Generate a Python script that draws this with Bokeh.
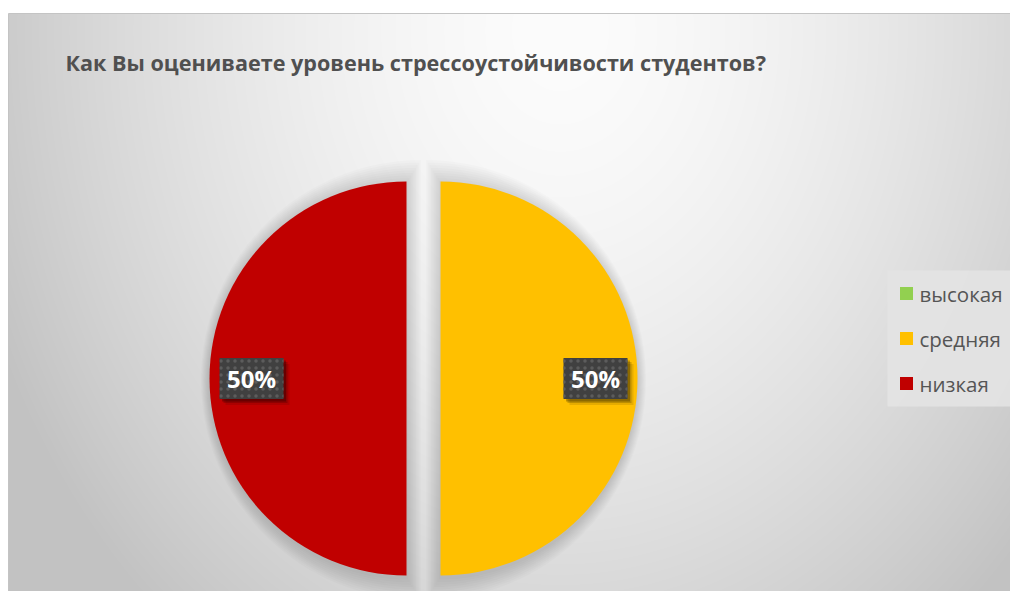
import numpy as np
from bokeh.plotting import figure
from bokeh.models import Range1d, ColumnDataSource
from bokeh.core.properties import value
from bokeh.embed import file_html
from bokeh.resources import INLINE

# ---- data ----
title_text = "Как Вы оцениваете уровень стрессоустойчивости студентов?"
categories = ["высокая", "средняя", "низкая"]
values = [0, 50, 50]
colors = ["#92D050", "#FFC000", "#C00000"]

# ---- layout constants (pixels) ----
W, H = 1010, 591
X0, CTOP = 8, 578   # chart area: x from X0, y from 0 to CTOP
CX, CY, R = 423, 213, 197
EXPLODE = 17
LABEL_R = 155
FONT = value("Open Sans")

p = figure(width=W, height=H, x_range=Range1d(0, W), y_range=Range1d(0, H),
           output_backend="svg", toolbar_location=None, min_border=0)
p.axis.visible = False
p.grid.visible = False
p.outline_line_color = None
p.background_fill_color = "white"
p.border_fill_color = "white"

# ---- background gradient ----
GW, GH = W - X0, CTOP
xs = np.arange(GW) + 0.5 + X0
ys = np.arange(GH) + 0.5
PX, PY = np.meshgrid(xs, H - ys)
d = np.sqrt((PX - 560) ** 2 + (0.8 * (PY - 30)) ** 2) / 620.0
t = np.clip(d, 0, 1) ** 1.6
v = (252 - 58 * t).astype(np.uint8)
img = np.empty((GH, GW), dtype=np.uint32)
view = img.view(dtype=np.uint8).reshape((GH, GW, 4))
view[..., 0] = v
view[..., 1] = v
view[..., 2] = v
view[..., 3] = 255
p.image_rgba(image=[img], x=X0, y=0, dw=GW, dh=GH)
p.line(x=[X0, X0, W], y=[0, CTOP, CTOP], line_color="#c4c4c4", line_width=1)

# ---- pie geometry from values ----
total = float(sum(values))
starts, ends, mids, cxs, cys, cols, lx, ly, ltxt = [], [], [], [], [], [], [], [], []
cum = 0.0
for val, col in zip(values, colors):
    frac = val / total
    a0 = np.pi / 2 - 2 * np.pi * cum
    a1 = a0 - 2 * np.pi * frac
    cum += frac
    if val <= 0:
        continue
    m = (a0 + a1) / 2
    cx = CX + EXPLODE * np.cos(m)
    cy = CY + EXPLODE * np.sin(m)
    starts.append(a0); ends.append(a1); mids.append(m)
    cxs.append(cx); cys.append(cy); cols.append(col)
    lx.append(cx + LABEL_R * np.cos(m)); ly.append(cy + LABEL_R * np.sin(m))
    ltxt.append(f"{round(100 * frac)}%")

# soft shadow: layered, slightly enlarged copies pushed back toward the centre
for k in range(9, 0, -1):
    s = 1.6 * k
    sx = [c - s * np.cos(m) for c, m in zip(cxs, mids)]
    sy = [c - s * np.sin(m) - 1.5 for c, m in zip(cys, mids)]
    p.wedge(x=sx, y=sy, radius=R + 1.6 * s, start_angle=starts, end_angle=ends,
            direction="clock", fill_color="black", fill_alpha=0.015, line_color=None)

pie = ColumnDataSource(dict(x=cxs, y=cys, start=starts, end=ends, color=cols))
p.wedge(x="x", y="y", radius=R, start_angle="start", end_angle="end",
        direction="clock", fill_color="color", line_color=None, source=pie)

# ---- data labels ----
lab = ColumnDataSource(dict(x=lx, y=ly, text=ltxt))
for off, a in [(6, 0.10), (4, 0.18), (2.5, 0.25)]:
    p.rect(x=[xx + off for xx in lx], y=[yy - off for yy in ly], width=64, height=41,
           fill_color="black", fill_alpha=a, line_color=None)
p.rect(x="x", y="y", width=64, height=41, fill_color="#404040", line_color=None,
       hatch_pattern="dot", hatch_color="#5c5c5c", hatch_scale=7, hatch_weight=1.2,
       source=lab)
p.text(x="x", y="y", text="text", text_font=FONT, text_font_style="bold",
       text_font_size="24px", text_color="white", text_align="center",
       text_baseline="middle", source=lab)

# ---- title ----
p.text(x=[65], y=[529], text=[title_text], text_font=FONT, text_font_style="bold",
       text_font_size="21.6px", text_color="#505050", text_baseline="alphabetic")

# ---- legend ----
p.quad(left=[887], right=[1014], bottom=[185], top=[321],
       fill_color="#e3e3e3", fill_alpha=0.9, line_color=None)
ly_leg = [298 - 45 * i for i in range(len(categories))]
p.rect(x=[906] * len(categories), y=ly_leg, width=13, height=13,
       fill_color=colors, line_color=None)
p.text(x=[919] * len(categories), y=ly_leg, text=categories, text_font=FONT,
       text_font_size="20.5px", text_color="#555555", text_baseline="middle")

open("out.html", "w").write(file_html(p, INLINE))
